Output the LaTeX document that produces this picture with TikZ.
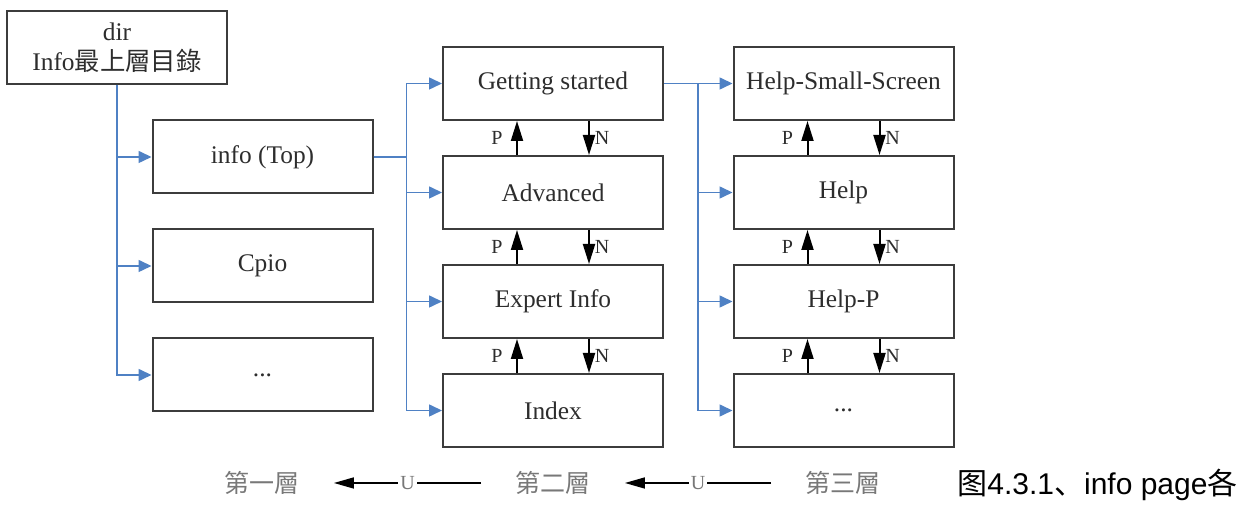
\documentclass[tikz,border=0pt]{standalone}
\usepackage{fontspec}
\setmainfont{Liberation Serif}
\setsansfont{Liberation Sans}
\newfontfamily\cjk{Noto Sans CJK TC}
\newfontfamily\cjksc{Noto Sans CJK SC}
\usetikzlibrary{positioning,arrows.meta,calc}
\definecolor{linkblue}{RGB}{79,129,196}
\definecolor{boxline}{RGB}{60,60,60}
\definecolor{boxtext}{RGB}{45,45,45}
\definecolor{layergray}{RGB}{120,120,120}
\tikzset{
  pagebox/.style={draw=boxline,line width=1pt,minimum width=110pt,minimum height=36.5pt,
                  inner sep=0pt,align=center,text=boxtext,font=\fontsize{12.7}{15}\selectfont},
  link/.style={-{Triangle[length=6.5pt,width=6pt]},line width=0.8pt,linkblue},
  nav/.style={-{Triangle[length=10pt,width=6pt]},line width=1pt,black},
  navlbl/.style={font=\fontsize{10}{11}\selectfont,text=boxtext,inner sep=0pt},
  layer/.style={font=\cjk\fontsize{12.5}{14}\selectfont,text=layergray,
                inner xsep=17pt,inner ysep=0pt},
  uarr/.style={-{Triangle[length=10pt,width=5.5pt]},line width=0.8pt,black},
  ulbl/.style={fill=white,text=layergray,font=\fontsize{10}{11}\selectfont,inner xsep=1pt},
}

\begin{document}
\begin{tikzpicture}[x=0.5pt,y=-0.5pt,node distance=17pt]
  \useasboundingbox (0,0) rectangle (1239,506);
  % first level
  \node[pagebox] (dir) at (117,47.5) {dir\\Info{\cjk 最上層目錄}};
  \node[pagebox] (top) at (262.5,157) {info (Top)};
  \node[pagebox,below=of top] (cpio) {Cpio};
  \node[pagebox,below=of cpio] (more1) {...};
  % second level
  \node[pagebox] (gs) at (553,83.5) {Getting started};
  \node[pagebox,below=of gs] (adv) {Advanced};
  \node[pagebox,below=of adv] (expert) {Expert Info};
  \node[pagebox,below=of expert] (index) {Index};
  % third level
  \node[pagebox] (hss) at (843.5,83.5) {Help-Small-Screen};
  \node[pagebox,below=of hss] (help) {Help};
  \node[pagebox,below=of help] (helpp) {Help-P};
  \node[pagebox,below=of helpp] (more3) {...};

  % menu links
  \draw[link] (dir.south) |- (top.west);
  \draw[link] (dir.south) |- (cpio.west);
  \draw[link] (dir.south) |- (more1.west);
  \coordinate (fork2) at ($(top.east)+(33,0)$);
  \draw[link] (top.east) -- (fork2) |- (gs.west);
  \draw[link] (top.east) -- (fork2) |- (adv.west);
  \draw[link] (top.east) -- (fork2) |- (expert.west);
  \draw[link] (top.east) -- (fork2) |- (index.west);
  \coordinate (fork3) at ($(gs.east)+(34,0)$);
  \draw[link] (gs.east) -- (fork3) |- (hss.west);
  \draw[link] (gs.east) -- (fork3) |- (help.west);
  \draw[link] (gs.east) -- (fork3) |- (helpp.west);
  \draw[link] (gs.east) -- (fork3) |- (more3.west);

  % prev / next
  \draw[nav] ([xshift=-18pt]adv.north) -- node[navlbl,xshift=-10pt]{P} ([xshift=-18pt]gs.south);
  \draw[nav] ([xshift=18pt]gs.south) -- node[navlbl,xshift=6.5pt]{N} ([xshift=18pt]adv.north);
  \draw[nav] ([xshift=-18pt]expert.north) -- node[navlbl,xshift=-10pt]{P} ([xshift=-18pt]adv.south);
  \draw[nav] ([xshift=18pt]adv.south) -- node[navlbl,xshift=6.5pt]{N} ([xshift=18pt]expert.north);
  \draw[nav] ([xshift=-18pt]index.north) -- node[navlbl,xshift=-10pt]{P} ([xshift=-18pt]expert.south);
  \draw[nav] ([xshift=18pt]expert.south) -- node[navlbl,xshift=6.5pt]{N} ([xshift=18pt]index.north);
  \draw[nav] ([xshift=-18pt]help.north) -- node[navlbl,xshift=-10pt]{P} ([xshift=-18pt]hss.south);
  \draw[nav] ([xshift=18pt]hss.south) -- node[navlbl,xshift=6.5pt]{N} ([xshift=18pt]help.north);
  \draw[nav] ([xshift=-18pt]helpp.north) -- node[navlbl,xshift=-10pt]{P} ([xshift=-18pt]help.south);
  \draw[nav] ([xshift=18pt]help.south) -- node[navlbl,xshift=6.5pt]{N} ([xshift=18pt]helpp.north);
  \draw[nav] ([xshift=-18pt]more3.north) -- node[navlbl,xshift=-10pt]{P} ([xshift=-18pt]helpp.south);
  \draw[nav] ([xshift=18pt]helpp.south) -- node[navlbl,xshift=6.5pt]{N} ([xshift=18pt]more3.north);

  % levels
  \node[layer] (lv1) at (262,483) {第一層};
  \node[layer] (lv2) at (553,483) {第二層};
  \node[layer] (lv3) at (843,483) {第三層};
  \draw[uarr] (lv2) -- node[ulbl]{U} (lv1);
  \draw[uarr] (lv3) -- node[ulbl]{U} (lv2);

  \node[anchor=base west,inner sep=0pt,font=\fontsize{15}{18}\selectfont] (caption) at (957,495)
    {{\cjksc 图}{\sffamily 4.3.1}{\cjksc 、}{\sffamily info page}{\cjksc 各}};
\end{tikzpicture}
\end{document}
